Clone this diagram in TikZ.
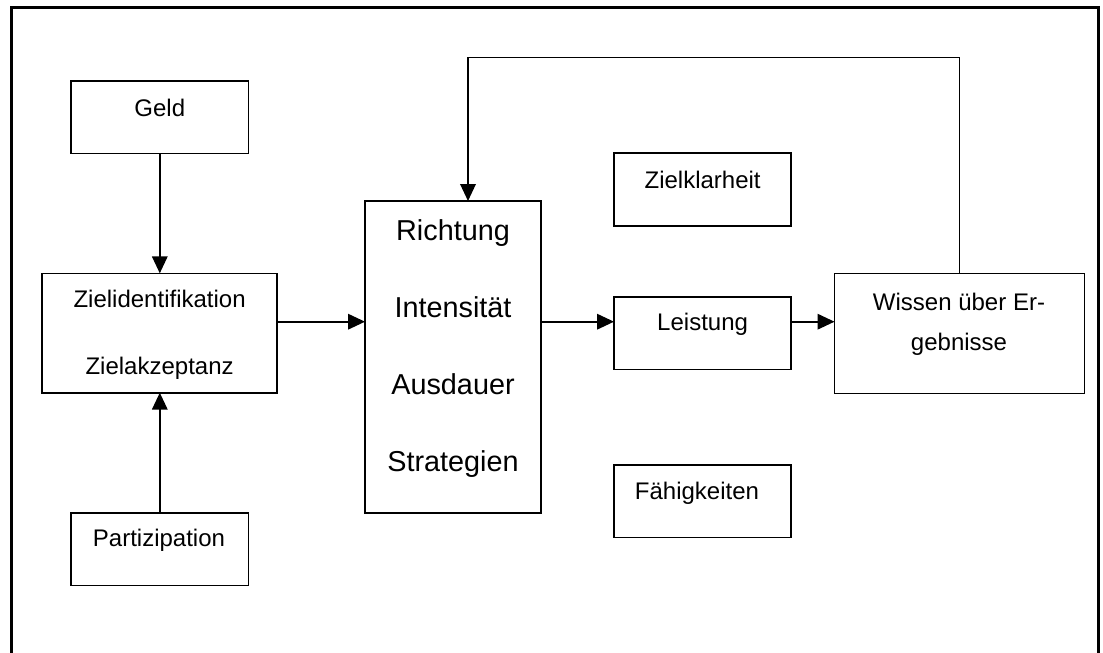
\documentclass[tikz,border=0pt]{standalone}
\usepackage{fontspec}
\setmainfont{Liberation Sans}
\usetikzlibrary{arrows.meta}
\begin{document}
\begin{tikzpicture}[x=0.5pt,y=-0.5pt,
  box/.style={draw,line width=0.8pt,inner sep=0pt,outer sep=0pt,rectangle},
  smallbox/.style={box,minimum width=88.6pt,minimum height=36.3pt},
  txt/.style={anchor=base,inner sep=0pt,font=\fontsize{12}{14}\selectfont},
  big/.style={anchor=base,inner sep=0pt,font=\fontsize{14.4}{17}\selectfont},
  arr/.style={line width=0.8pt,-{Triangle[length=8.5pt,width=7.8pt]}}]
\useasboundingbox (0,0) rectangle (1103,653);
\draw[line width=1.1pt] (11.5,653) -- (11.5,7.5) -- (1098.5,7.5) -- (1098.5,653);
% boxes
\node[smallbox] (geld) at (159.8,117) {};
\node[box,minimum width=117.5pt,minimum height=59.7pt] (ziel) at (159.6,333) {};
\node[smallbox] (part) at (159.8,549.3) {};
\node[box,minimum width=88pt,minimum height=156pt] (richt) at (453,357) {};
\node[smallbox] (zk) at (702.6,189.5) {};
\node[smallbox] (leist) at (702.6,333) {};
\node[smallbox] (faeh) at (702.6,501.3) {};
\node[box,minimum width=125pt,minimum height=60pt] (wissen) at (959.5,333.3) {};
% texts
\node[txt] (tgeld) at (159.8,116) {Geld};
\node[txt] (tzid) at (159.6,307.3) {Zielidentifikation};
\node[txt] (tzak) at (159.6,374) {Zielakzeptanz};
\node[txt] (tpart) at (159,546.3) {Partizipation};
\node[big] (tr1) at (453,240) {Richtung};
\node[big] (tr2) at (453,317.5) {Intensität};
\node[big] (tr3) at (453,394.5) {Ausdauer};
\node[big] (tr4) at (453,471.5) {Strategien};
\node[txt] (tzk) at (702.6,188.3) {Zielklarheit};
\node[txt] (tleist) at (702.6,330.5) {Leistung};
\node[txt] (tfaeh) at (697,499) {Fähigkeiten};
\node[txt] (tw1) at (959,310) {Wissen über Er-};
\node[txt] (tw2) at (959,350) {gebnisse};
% connectors
\coordinate (ay) at (0,321.7);
\coordinate (fbx) at (468,57.3);
\draw[arr] (geld.south) -- (geld.south |- ziel.north);
\draw[arr] (part.north) -- (part.north |- ziel.south);
\draw[arr] (ziel.east |- ay) -- (richt.west |- ay);
\draw[arr] (richt.east |- ay) -- (leist.west |- ay);
\draw[arr] (leist.east |- ay) -- (wissen.west |- ay);
\draw[arr] (wissen.north) |- (fbx) -- (fbx |- richt.north);
\end{tikzpicture}
\end{document}
